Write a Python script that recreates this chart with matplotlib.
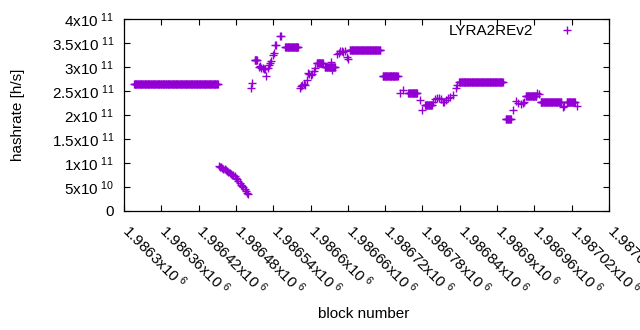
import numpy as np
import matplotlib
matplotlib.use("Agg")
import matplotlib.pyplot as plt
import matplotlib.transforms as mtransforms

plt.rcParams['font.family'] = ['Liberation Sans', 'DejaVu Sans']
plt.rcParams['mathtext.fontset'] = 'custom'
plt.rcParams['mathtext.rm'] = 'Liberation Sans'

# flat stretches: first block, last block, hashrate (h/s)
run_start = [1986316, 1986510, 1986559, 1986610, 1986623, 1986663, 1986716,
             1986757, 1986784, 1986839, 1986914, 1986946, 1986970, 1987012]
run_end = [1986451, 1986514, 1986580, 1986620, 1986639, 1986712, 1986740,
           1986771, 1986795, 1986909, 1986922, 1986963, 1987003, 1987025]
run_value = [2.64e11, 3.14e11, 3.42e11, 3.08e11, 3.00e11, 3.35e11, 2.81e11,
             2.45e11, 2.21e11, 2.68e11, 1.91e11, 2.40e11, 2.27e11, 2.28e11]

# single blocks
point_block = [1986452, 1986454, 1986456, 1986458, 1986460, 1986462, 1986464,
               1986466, 1986468, 1986470, 1986472, 1986474, 1986476, 1986478,
               1986480, 1986482, 1986484, 1986486, 1986488, 1986490, 1986492,
               1986494, 1986496, 1986498, 1986500,
               1986504, 1986506, 1986517, 1986519, 1986521, 1986523, 1986525,
               1986527, 1986529, 1986531, 1986533, 1986535, 1986537, 1986539,
               1986541, 1986543, 1986545, 1986551, 1986553,
               1986583, 1986585, 1986587, 1986589, 1986591, 1986594, 1986596,
               1986598, 1986600, 1986602, 1986605, 1986607,
               1986633, 1986634, 1986642, 1986645, 1986648, 1986651, 1986653,
               1986656, 1986659, 1986661,
               1986744, 1986749, 1986776, 1986779, 1986797, 1986800, 1986803,
               1986807, 1986810, 1986813, 1986815, 1986818, 1986821, 1986825,
               1986829, 1986834, 1986836,
               1986925, 1986930, 1986933, 1986938, 1986941, 1986943, 1986965,
               1986967, 1987006, 1987008, 1987029]
point_value = [0.93e11, 0.92e11, 0.91e11, 0.90e11, 0.88e11, 0.87e11, 0.85e11,
               0.83e11, 0.82e11, 0.80e11, 0.78e11, 0.76e11, 0.74e11, 0.72e11,
               0.69e11, 0.66e11, 0.62e11, 0.59e11, 0.55e11, 0.52e11, 0.49e11,
               0.45e11, 0.42e11, 0.38e11, 0.35e11,
               2.57e11, 2.66e11, 3.00e11, 3.02e11, 2.98e11, 2.97e11, 2.96e11,
               2.95e11, 2.82e11, 2.97e11, 3.05e11, 3.08e11, 3.12e11, 3.25e11,
               3.30e11, 3.46e11, 3.45e11, 3.65e11, 3.64e11,
               2.56e11, 2.60e11, 2.62e11, 2.65e11, 2.63e11, 2.73e11, 2.87e11,
               2.85e11, 2.84e11, 2.86e11, 2.92e11, 2.98e11,
               3.10e11, 2.94e11, 3.28e11, 3.30e11, 3.33e11, 3.33e11, 3.32e11,
               3.34e11, 3.20e11, 3.17e11,
               2.45e11, 2.52e11, 2.31e11, 2.10e11, 2.28e11, 2.33e11, 2.35e11,
               2.36e11, 2.33e11, 2.28e11, 2.28e11, 2.32e11, 2.35e11, 2.38e11,
               2.42e11, 2.56e11, 2.63e11,
               2.10e11, 2.29e11, 2.25e11, 2.22e11, 2.25e11, 2.28e11, 2.45e11,
               2.44e11, 2.16e11, 2.18e11, 2.19e11]

blocks = list(point_block)
rates = list(point_value)
for s, e, v in zip(run_start, run_end, run_value):
    for b in range(s, e + 1):
        blocks.append(b)
        rates.append(v)
order = np.argsort(blocks)
blocks = np.array(blocks)[order]
rates = np.array(rates)[order]


def sci(v):
    if v == 0:
        return '0'
    exp = int(np.floor(np.log10(abs(v)) + 1e-9))
    mant = v / 10 ** exp
    return r'$\mathregular{%gx10^{\ %d}}$' % (round(mant, 6), exp)


xticks = np.arange(1986300, 1987081, 60)
yticks = np.arange(0, 4.01e11, 0.5e11)
fs = 11

fig = plt.figure(figsize=(6.4, 3.3), dpi=100)
ax = fig.add_axes([124 / 640, 1 - 211 / 330, 485 / 640, 192 / 330])
ax.plot(blocks, rates, '+', color='#9400D3', ms=5.5, mew=1.0,
        linestyle='none', label='LYRA2REv2')

ax.set_xlim(1986300, 1987080)
ax.set_ylim(0, 4e11)
ax.set_xticks(xticks)
ax.set_yticks(yticks)
ax.set_yticklabels([sci(v) for v in yticks], fontsize=fs)
ax.set_xticklabels([sci(v) for v in xticks], fontsize=fs, rotation=-45,
                   ha='left', va='top', rotation_mode='anchor')
ax.tick_params(direction='in', length=4, top=True, right=True, width=0.8)
ax.tick_params(axis='x', pad=7)
ax.tick_params(axis='y', pad=7)
shift = mtransforms.ScaledTranslation(0.08, 0.0, fig.dpi_scale_trans)
for lab in ax.get_xticklabels():
    lab.set_transform(lab.get_transform() + shift)
for sp in ax.spines.values():
    sp.set_linewidth(0.9)

ax.set_xlabel('block number', fontsize=fs)
ax.set_ylabel('hashrate [h/s]', fontsize=fs)
ax.xaxis.set_label_coords(0.495, -0.50)
ax.yaxis.set_label_coords(-0.205, 0.5)

ax.legend(loc='center right', bbox_to_anchor=(0.9456, 0.9375), frameon=False,
          markerfirst=False, fontsize=fs, handlelength=2.0, borderaxespad=0,
          borderpad=0, handletextpad=1.25)

fig.savefig('out.png', dpi=100)
